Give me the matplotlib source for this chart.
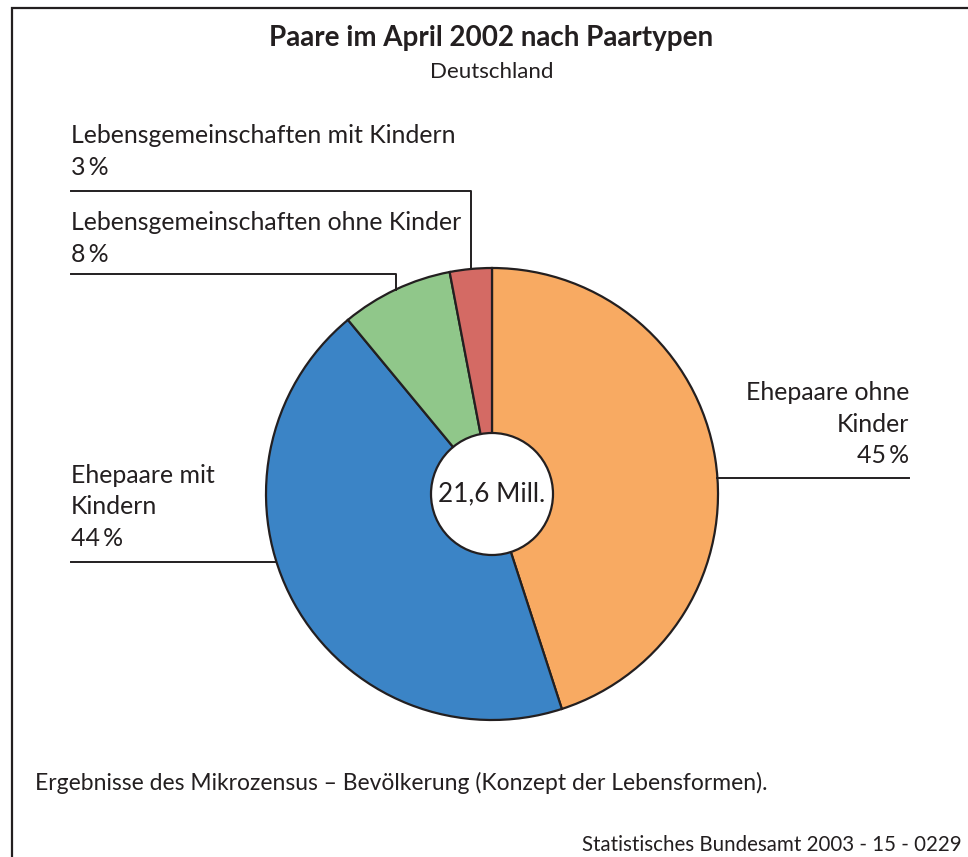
import numpy as np
import matplotlib.pyplot as plt

plt.rcParams['font.family'] = ['Lato', 'DejaVu Sans']

# data
labels = ['Ehepaare ohne Kinder', 'Ehepaare mit Kindern',
          'Lebensgemeinschaften ohne Kinder', 'Lebensgemeinschaften mit Kindern']
shares = [45, 44, 8, 3]
colors = ['#F8AA62', '#3B84C6', '#90C78A', '#D46A64']
total_txt = '21,6 Mill.'
title = 'Paare im April 2002 nach Paartypen'
subtitle = 'Deutschland'
note = 'Ergebnisse des Mikrozensus \u2013 Bev\u00f6lkerung (Konzept der Lebensformen).'
source = 'Statistisches Bundesamt 2003 - 15 - 0229'

W, H = 968, 857
fig = plt.figure(figsize=(W / 100, H / 100), dpi=100)
ax = fig.add_axes([0, 0, 1, 1])


def Y(y):
    # pixel row (from top) -> data y
    return H - y


ink = '#231f20'
cx, cy, r = 492, Y(494), 226

wedges, _ = ax.pie(shares, colors=colors, startangle=90, counterclock=False,
                   center=(cx, cy), radius=r, frame=True,
                   wedgeprops=dict(edgecolor=ink, linewidth=1.6))
ax.set_xlim(0, W)
ax.set_ylim(0, H)
ax.set_aspect('equal')
ax.axis('off')

hole = plt.Circle((cx, cy), 61, facecolor='white', edgecolor=ink, lw=1.6, zorder=5)
ax.add_patch(hole)
ax.text(cx, cy, total_txt, ha='center', va='center', fontsize=18.8, color=ink,
        zorder=6)

# frame (top + left only)
ax.plot([12, 12, W], [0, Y(8), Y(8)], color=ink, lw=1.6, solid_joinstyle='miter')

ax.text(491, Y(46), title, ha='center', va='baseline', fontsize=20,
        fontweight='bold', color=ink)
ax.text(492, Y(78), subtitle, ha='center', va='baseline', fontsize=16, color=ink)

fs = 17.9
lw = 1.4
pct = [f'{v}\u2009%' for v in shares]


def txt(x, y, s, ha='left', size=fs):
    ax.text(x, Y(y), s, ha=ha, va='baseline', fontsize=size, color=ink)


def mid_point(w):
    a = np.deg2rad((w.theta1 + w.theta2) / 2)
    return cx + r * np.cos(a), cy + r * np.sin(a)


# small slices: leaders go up then left
for i, line_y, base in [(3, 191, 143), (2, 274, 230)]:
    px, py = mid_point(wedges[i])
    ax.plot([71, px, px], [Y(line_y), Y(line_y), py], color=ink, lw=lw)
    txt(71, base, labels[i])
    txt(71, base + 32, pct[i])

# Ehepaare ohne Kinder (right)
ly = 478
ex = cx + np.sqrt(r ** 2 - (Y(ly) - cy) ** 2)
ax.plot([ex, 909], [Y(ly), Y(ly)], color=ink, lw=lw)
for k, s in enumerate(['Ehepaare ohne', 'Kinder', pct[0]]):
    txt(909, 400 + 31.7 * k, s, ha='right')

# Ehepaare mit Kindern (left)
ly = 562
ex = cx - np.sqrt(r ** 2 - (Y(ly) - cy) ** 2)
ax.plot([71, ex], [Y(ly), Y(ly)], color=ink, lw=lw)
for k, s in enumerate(['Ehepaare mit', 'Kindern', pct[1]]):
    txt(71, 483 + 31.5 * k, s)

txt(35, 790, note, size=16.45)
txt(962, 851, source, ha='right', size=14.8)

fig.savefig('out.png', dpi=100)
